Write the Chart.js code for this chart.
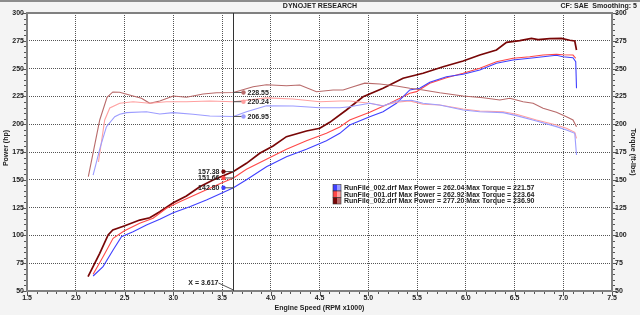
<!DOCTYPE html>
<html><head><meta charset="utf-8">
<script src="https://cdn.jsdelivr.net/npm/chart.js@4.4.1/dist/chart.umd.min.js"></script>
<style>html,body{margin:0;padding:0;background:#f4f4f4;}#wrap{position:relative;width:640px;height:315px;}</style>
</head><body><div id="wrap"><canvas id="c"></canvas></div>
<script>
// ---------- data ----------
const runNames = ['RunFile_002.drf', 'RunFile_001.drf', 'RunFile_002.drf'];
const maxPower = [262.04, 262.92, 277.20];
const maxTorque = [221.57, 223.64, 236.90];
const cursorRpm = 3.617;
const cursorPower = [142.80, 151.66, 157.38];
const cursorTorque = [206.95, 220.24, 228.55];
const xTicks = [1.5, 2.0, 2.5, 3.0, 3.5, 4.0, 4.5, 5.0, 5.5, 6.0, 6.5, 7.0, 7.5];
const yTicks = [50, 75, 100, 125, 150, 175, 200, 225, 250, 275, 300];

// run A (blue)
const rpmPowerA = [2.178, 2.28, 2.383, 2.469, 2.588, 2.725, 2.862, 3.0, 3.169, 3.34, 3.477, 3.617, 3.751, 3.956, 4.161, 4.366, 4.571, 4.708, 4.81, 5.015, 5.152, 5.289, 5.426, 5.528, 5.631, 5.802, 5.973, 6.144, 6.315, 6.485, 6.656, 6.793, 6.93, 6.998, 7.1, 7.128, 7.136];
const powerA = [63.5, 71.9, 86.9, 98.8, 103.3, 109.4, 114.5, 120.4, 125.8, 131.8, 137.2, 142.8, 150.0, 161.8, 170.8, 177.4, 185.2, 191.8, 199.3, 206.7, 211.2, 218.8, 230.8, 232.3, 237.7, 242.7, 244.9, 248.7, 254.8, 257.7, 259.3, 260.7, 262.0, 260.7, 259.8, 256.2, 232.3];
const rpmTorqueA = [2.178, 2.253, 2.315, 2.4, 2.451, 2.52, 2.725, 2.862, 3.0, 3.203, 3.374, 3.617, 3.751, 3.956, 4.229, 4.503, 4.708, 4.81, 5.015, 5.152, 5.289, 5.443, 5.562, 5.733, 5.973, 6.144, 6.383, 6.52, 6.725, 6.93, 7.033, 7.118, 7.136];
const torqueA = [154.3, 179.8, 197.8, 206.7, 208.9, 210.4, 211.2, 209.2, 210.4, 208.9, 207.4, 206.95, 211.2, 216.6, 216.4, 214.8, 214.8, 215.7, 218.8, 216.4, 220.9, 221.57, 218.8, 217.3, 212.8, 211.2, 210.4, 207.7, 202.9, 197.8, 194.8, 191.8, 172.3];

// run B (red)
const rpmPowerB = [2.178, 2.28, 2.383, 2.495, 2.656, 2.793, 2.93, 3.067, 3.272, 3.477, 3.617, 3.751, 3.956, 4.161, 4.366, 4.571, 4.708, 4.81, 5.015, 5.221, 5.426, 5.494, 5.631, 5.802, 5.973, 6.144, 6.315, 6.485, 6.656, 6.793, 6.93, 6.998, 7.1, 7.128];
const powerB = [65.0, 80.8, 97.4, 104.0, 110.9, 115.4, 124.4, 130.3, 138.4, 146.5, 151.66, 159.4, 168.4, 177.4, 185.2, 191.8, 197.5, 203.8, 210.7, 218.8, 227.8, 229.3, 236.8, 241.8, 245.8, 250.3, 256.2, 259.3, 260.7, 262.2, 262.9, 262.5, 262.2, 259.3];
const rpmTorqueB = [2.233, 2.297, 2.349, 2.451, 2.588, 2.759, 2.93, 3.135, 3.374, 3.617, 3.956, 4.229, 4.503, 4.708, 4.81, 5.015, 5.152, 5.289, 5.426, 5.562, 5.733, 5.973, 6.144, 6.383, 6.52, 6.725, 6.93, 7.033, 7.118, 7.136];
const torqueB = [166.0, 203.8, 214.6, 218.8, 220.2, 218.8, 220.2, 220.2, 220.9, 220.24, 223.64, 222.7, 220.2, 220.9, 220.9, 218.8, 216.6, 219.7, 221.0, 217.9, 217.3, 213.7, 211.9, 211.2, 208.9, 203.8, 199.3, 196.3, 192.7, 187.3];

// run C (dark red)
const rpmPowerC = [2.126, 2.246, 2.332, 2.38, 2.496, 2.656, 2.759, 2.862, 3.0, 3.135, 3.272, 3.408, 3.617, 3.751, 3.887, 4.024, 4.161, 4.366, 4.503, 4.605, 4.776, 4.947, 5.152, 5.357, 5.562, 5.768, 5.973, 6.144, 6.315, 6.418, 6.554, 6.674, 6.742, 6.862, 6.982, 7.067, 7.118, 7.136];
const powerC = [62.9, 83.9, 100.4, 104.9, 108.5, 113.8, 115.9, 121.3, 129.4, 135.4, 143.8, 149.8, 157.38, 164.8, 173.8, 180.4, 188.8, 193.9, 196.3, 201.7, 212.8, 224.7, 232.3, 241.3, 245.8, 251.7, 256.8, 262.2, 266.7, 273.6, 275.1, 277.2, 276.0, 277.0, 277.2, 275.5, 274.8, 266.7];
const rpmTorqueC = [2.129, 2.246, 2.321, 2.38, 2.45, 2.588, 2.674, 2.759, 2.862, 3.0, 3.135, 3.306, 3.443, 3.617, 3.819, 3.956, 4.161, 4.298, 4.469, 4.639, 4.742, 4.845, 4.964, 5.118, 5.289, 5.426, 5.562, 5.733, 5.973, 6.178, 6.349, 6.452, 6.588, 6.691, 6.793, 6.93, 7.033, 7.1, 7.136];
const torqueC = [152.8, 203.8, 224.2, 229.0, 228.7, 225.4, 223.3, 218.8, 220.9, 225.4, 224.2, 227.2, 228.3, 228.55, 233.7, 235.5, 234.6, 235.3, 229.2, 230.8, 230.8, 233.7, 236.9, 236.2, 234.4, 232.3, 230.8, 228.3, 225.4, 223.8, 221.8, 223.3, 220.2, 218.8, 214.3, 210.7, 206.7, 203.8, 197.8];

// ---------- styles ----------
const powerColors = ['#4040ff', '#ff4848', '#780606'];
const torqueColors = ['#9c9cff', '#ffa0a0', '#b86a6a'];
const FONT = 'bold 7px "Liberation Sans", Arial, sans-serif';
const TXT = '#222';

const pts = (xs, ys) => xs.map((x, i) => ({x: x, y: ys[i]}));
const rpmP = [rpmPowerA, rpmPowerB, rpmPowerC], pw = [powerA, powerB, powerC];
const rpmT = [rpmTorqueA, rpmTorqueB, rpmTorqueC], tq = [torqueA, torqueB, torqueC];

const datasets = [];
for (let i = 0; i < 3; i++) {
  datasets.push({label: runNames[i] + ' Torque', data: pts(rpmT[i], tq[i]), yAxisID: 'y2',
    borderColor: torqueColors[i], borderWidth: 1.1, pointRadius: 0, tension: 0, fill: false});
}
for (let i = 0; i < 3; i++) {
  datasets.push({label: runNames[i] + ' Power', data: pts(rpmP[i], pw[i]), yAxisID: 'y',
    borderColor: powerColors[i], borderWidth: i === 2 ? 1.7 : 1.1, pointRadius: 0, tension: 0, fill: false});
}

const edgeless = (ctx, lo, hi) => (ctx.tick && (Math.abs(ctx.tick.value - lo) < 1e-6 || Math.abs(ctx.tick.value - hi) < 1e-6)) ? 'rgba(0,0,0,0)' : '#555';

const decor = {
  id: 'decor',
  beforeDraw(chart) {
    const {ctx, chartArea: a, width, height} = chart;
    ctx.save();
    ctx.fillStyle = '#f4f4f4'; ctx.fillRect(0, 0, width, height);
    ctx.fillStyle = '#ffffff'; ctx.fillRect(a.left, a.top, a.right - a.left, a.bottom - a.top);
    ctx.fillStyle = '#8c8c8c'; ctx.fillRect(0, 0, width, 2);
    ctx.restore();
  },
  afterDatasetsDraw(chart) {
    const {ctx, chartArea: a, width} = chart;
    const xs = chart.scales.x, ys = chart.scales.y, ys2 = chart.scales.y2;
    ctx.save();
    // frame
    ctx.strokeStyle = '#808080'; ctx.lineWidth = 2;
    ctx.strokeRect(a.left, a.top, a.right - a.left, a.bottom - a.top);
    // minor/major ticks
    ctx.strokeStyle = '#555'; ctx.lineWidth = 1; ctx.beginPath();
    for (let i = 0; i <= 60; i++) {
      const v = 1.5 + i * 0.1, px = Math.round(xs.getPixelForValue(v)) + 0.5;
      const len = (i % 5 === 0) ? 4 : 2;
      ctx.moveTo(px, a.bottom + 1); ctx.lineTo(px, a.bottom + 1 + len);
    }
    for (let v = 50; v <= 300; v += 5) {
      const py = Math.round(ys.getPixelForValue(v)) + 0.5, len = (v % 25 === 0) ? 4 : 2;
      ctx.moveTo(a.left - 1, py); ctx.lineTo(a.left - 1 - len, py);
      const py2 = Math.round(ys2.getPixelForValue(v)) + 0.5;
      ctx.moveTo(a.right + 1, py2); ctx.lineTo(a.right + 1 + len, py2);
    }
    ctx.stroke();
    // cursor
    const cx = Math.round(xs.getPixelForValue(cursorRpm)) + 0.5;
    ctx.strokeStyle = '#333'; ctx.lineWidth = 1;
    ctx.beginPath(); ctx.moveTo(cx, a.top); ctx.lineTo(cx, a.bottom); ctx.stroke();
    ctx.font = FONT; ctx.textBaseline = 'middle';
    for (let i = 0; i < 3; i++) {
      const ty = ys2.getPixelForValue(cursorTorque[i]);
      ctx.strokeStyle = '#555'; ctx.beginPath(); ctx.moveTo(cx, ty); ctx.lineTo(cx + 10, ty); ctx.stroke();
      ctx.fillStyle = torqueColors[i]; ctx.beginPath(); ctx.arc(cx + 10, ty, 2.2, 0, Math.PI * 2); ctx.fill();
      ctx.fillStyle = TXT; ctx.textAlign = 'left'; ctx.fillText(cursorTorque[i].toFixed(2), cx + 14, ty + 0.5);
      const py = ys.getPixelForValue(cursorPower[i]);
      ctx.strokeStyle = '#555'; ctx.beginPath(); ctx.moveTo(cx - 10, py); ctx.lineTo(cx, py); ctx.stroke();
      ctx.fillStyle = powerColors[i]; ctx.beginPath(); ctx.arc(cx - 10, py, 2.2, 0, Math.PI * 2); ctx.fill();
      ctx.fillStyle = TXT; ctx.textAlign = 'right'; ctx.fillText(cursorPower[i].toFixed(2), cx - 14, py + 0.5);
    }
    ctx.fillStyle = TXT; ctx.textAlign = 'right';
    ctx.fillText('X = ' + cursorRpm.toFixed(3), cx - 15, a.bottom - 8);
    ctx.strokeStyle = '#555'; ctx.beginPath(); ctx.moveTo(cx - 15, a.bottom - 8); ctx.lineTo(cx, a.bottom - 1); ctx.stroke();
    // legend
    const lx = 333, ly = 184.5, rh = 6.5;
    for (let i = 0; i < 3; i++) {
      const y0 = ly + i * rh;
      ctx.fillStyle = powerColors[i]; ctx.fillRect(lx, y0, 4, rh);
      ctx.fillStyle = torqueColors[i]; ctx.fillRect(lx + 4, y0, 4, rh);
      ctx.strokeStyle = '#333'; ctx.lineWidth = 0.6; ctx.strokeRect(lx, y0, 8, rh);
      ctx.fillStyle = TXT; ctx.textAlign = 'left';
      ctx.fillText(runNames[i] + ' Max Power = ' + maxPower[i].toFixed(2) + ' Max Torque = ' + maxTorque[i].toFixed(2), lx + 11, y0 + rh / 2 + 0.5);
    }
    // header & axis titles
    ctx.fillStyle = TXT; ctx.textAlign = 'center';
    ctx.fillText('DYNOJET RESEARCH', 320, 6);
    ctx.textAlign = 'right'; ctx.fillText('CF: SAE  Smoothing: 5', width - 3, 6);
    ctx.textAlign = 'center'; ctx.fillText('Engine Speed (RPM x1000)', (a.left + a.right) / 2, 308);
    ctx.save(); ctx.translate(6, 148); ctx.rotate(-Math.PI / 2); ctx.fillText('Power (hp)', 0, 0); ctx.restore();
    ctx.save(); ctx.translate(633, 152); ctx.rotate(Math.PI / 2); ctx.fillText('Torque (ft-lbs)', 0, 0); ctx.restore();
    ctx.restore();
  }
};

const tickFont = {family: '"Liberation Sans", Arial, sans-serif', size: 7, weight: 'bold'};
new Chart(document.getElementById('c'), {
  type: 'line',
  data: {datasets: datasets},
  options: {
    responsive: true, maintainAspectRatio: false, animation: false, parsing: true,
    layout: {padding: {top: 13, left: 0, right: 0, bottom: 0}},
    plugins: {legend: {display: false}, title: {display: false}, tooltip: {enabled: false}},
    scales: {
      x: {type: 'linear', min: 1.5, max: 7.5,
        afterBuildTicks: s => { s.ticks = xTicks.map(v => ({value: v})); },
        afterFit: s => { s.height = 24; },
        ticks: {font: tickFont, color: TXT, padding: 3, maxRotation: 0, autoSkip: false, callback: v => Number(v).toFixed(1)},
        grid: {drawTicks: false, lineWidth: 1, color: c => edgeless(c, 1.5, 7.5)},
        border: {display: false, dash: [1, 1]}},
      y: {type: 'linear', position: 'left', min: 50, max: 300,
        afterBuildTicks: s => { s.ticks = yTicks.map(v => ({value: v})); },
        afterFit: s => { s.width = 27; },
        ticks: {font: tickFont, color: TXT, padding: 3, autoSkip: false},
        grid: {drawTicks: false, lineWidth: 1, color: c => edgeless(c, 50, 300)},
        border: {display: false, dash: [1, 1]}},
      y2: {type: 'linear', position: 'right', min: 50, max: 300,
        afterBuildTicks: s => { s.ticks = yTicks.map(v => ({value: v})); },
        afterFit: s => { s.width = 28; },
        ticks: {font: tickFont, color: TXT, padding: 3, autoSkip: false},
        grid: {display: false, drawTicks: false},
        border: {display: false}}
    }
  },
  plugins: [decor]
});
</script></body></html>
